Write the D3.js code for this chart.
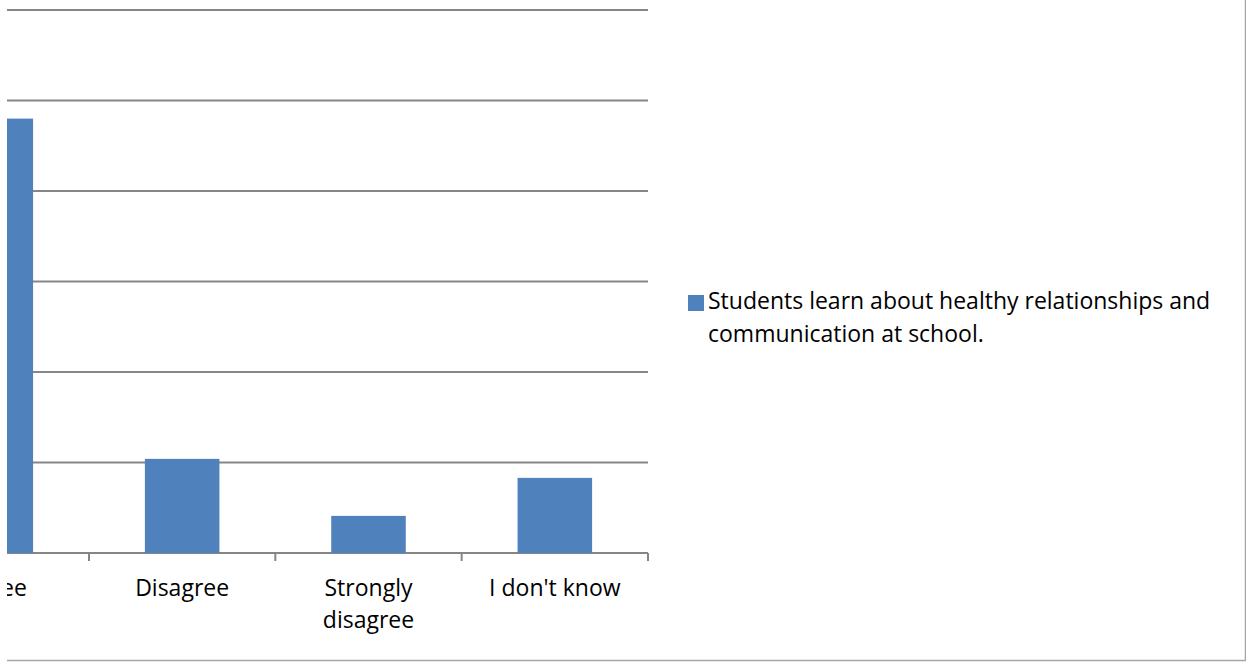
<!DOCTYPE html>
<html>
<head>
<meta charset="utf-8">
<script src="https://cdn.jsdelivr.net/npm/d3@7"></script>
<style>
  body { margin: 0; background: #fff; }
  svg { display: block; }
  text { font-family: "Open Sans", "Noto Sans", sans-serif; fill: #000; }
</style>
</head>
<body>
<div id="chart"></div>
<script>
// data (y axis assumed 0..60 %, only part of the chart is in view)
const categories = ["Strongly agree", "Agree", "Disagree", "Strongly disagree", "I don't know"];
const values = [29.2, 48.0, 10.4, 4.1, 8.3];
const yTicks = [0, 10, 20, 30, 40, 50, 60];
const seriesName = "Students learn about healthy relationships and communication at school.";

const W = 1246, H = 663;
const plot = { left: -283.7, right: 648, top: 10, bottom: 553 };
const barColor = "#4f81bd";
const gridColor = "#868686";

const svg = d3.select("#chart").append("svg")
  .attr("width", W)
  .attr("height", H);

// the visible part of the chart starts at x = 7
svg.append("clipPath").attr("id", "view")
  .append("rect").attr("x", 7).attr("y", 0).attr("width", W).attr("height", H);

const g = svg.append("g").attr("clip-path", "url(#view)");

const x = d3.scaleBand()
  .domain(categories)
  .range([plot.left, plot.right])
  .paddingInner(0.6)
  .paddingOuter(0.3);

const y = d3.scaleLinear()
  .domain([0, 60])
  .range([plot.bottom, plot.top]);

// chart border (only right and bottom edges are in view)
g.append("rect")
  .attr("x", -20).attr("y", -20)
  .attr("width", 1245.5 + 20).attr("height", 660.5 + 20)
  .attr("fill", "none")
  .attr("stroke", "#a6a6a6")
  .attr("stroke-width", 1.5);

// gridlines
g.selectAll(".grid")
  .data(yTicks)
  .enter()
  .append("line")
  .attr("class", "grid")
  .attr("x1", plot.left).attr("x2", plot.right)
  .attr("y1", d => y(d)).attr("y2", d => y(d))
  .attr("stroke", gridColor)
  .attr("stroke-width", 2);

// bars
g.selectAll(".bar")
  .data(values)
  .enter()
  .append("rect")
  .attr("class", "bar")
  .attr("x", (d, i) => x(categories[i]))
  .attr("y", d => y(d))
  .attr("width", x.bandwidth())
  .attr("height", d => y(0) - y(d))
  .attr("fill", barColor);

// category boundary ticks
const step = x.step();
const bounds = d3.range(categories.length + 1).map(i => plot.left + i * step);
g.selectAll(".tick")
  .data(bounds)
  .enter()
  .append("line")
  .attr("x1", d => d).attr("x2", d => d)
  .attr("y1", plot.bottom).attr("y2", plot.bottom + 8)
  .attr("stroke", gridColor)
  .attr("stroke-width", 2);

// category labels, wrapped like the original
const labelLines = {
  "Strongly agree": ["Strongly agree"],
  "Agree": ["Agree"],
  "Disagree": ["Disagree"],
  "Strongly disagree": ["Strongly", "disagree"],
  "I don't know": ["I don't know"]
};
categories.forEach(c => {
  const t = g.append("text")
    .attr("x", x(c) + x.bandwidth() / 2)
    .attr("y", 596)
    .attr("text-anchor", "middle")
    .style("font-size", "23px");
  labelLines[c].forEach((line, i) => {
    t.append("tspan")
      .attr("x", x(c) + x.bandwidth() / 2)
      .attr("dy", i === 0 ? 0 : 32)
      .text(line);
  });
});

// legend
const lg = svg.append("g").attr("transform", "translate(688,295)");
lg.append("rect").attr("width", 16).attr("height", 16).attr("fill", barColor);
const lt = lg.append("text").attr("x", 20).attr("y", 14).style("font-size", "23px");
lt.append("tspan").attr("x", 20).attr("dy", 0).text("Students learn about healthy relationships and");
lt.append("tspan").attr("x", 20).attr("dy", 33).text("communication at school.");
</script>
</body>
</html>
